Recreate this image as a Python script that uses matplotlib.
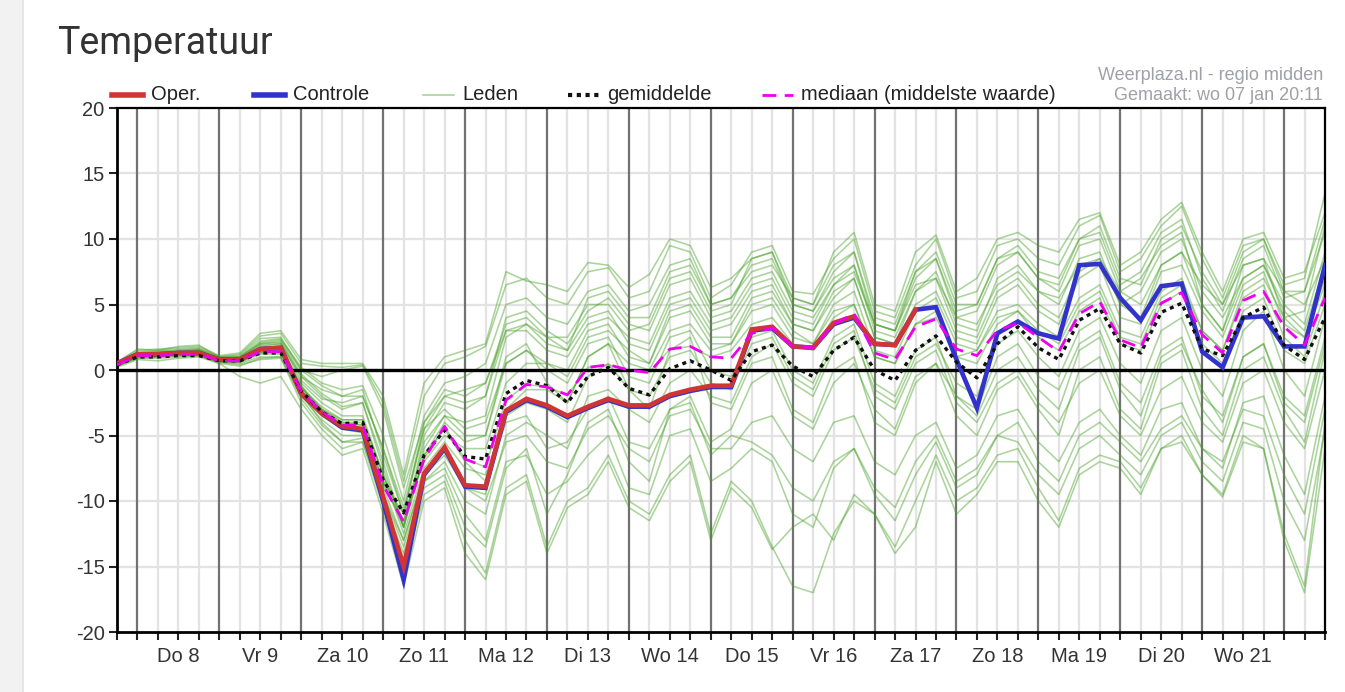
import numpy as np
import matplotlib.pyplot as plt
from matplotlib.lines import Line2D
from matplotlib.patches import Rectangle

# time steps: every 6 hours from wo 7 jan 18:00 (step 0) to do 22 jan 12:00 (step 59)
day_labels = ["Do 8", "Vr 9", "Za 10", "Zo 11", "Ma 12", "Di 13", "Wo 14",
              "Do 15", "Vr 16", "Za 17", "Zo 18", "Ma 19", "Di 20", "Wo 21"]

oper = [0.5, 1.2, 1.2, 1.3, 1.3, 0.8, 0.8, 1.6, 1.7, -1.8, -3.3, -4.3, -4.5, -9.7, -15.0,
        -7.9, -5.9, -8.8, -8.9, -3.1, -2.2, -2.7, -3.5, -2.8, -2.2, -2.7, -2.7, -1.9, -1.5, -1.2,
        -1.2, 3.1, 3.3, 1.8, 1.7, 3.6, 4.1, 2.0, 1.9, 4.6]

controle = [0.5, 1.2, 1.2, 1.3, 1.3, 0.8, 0.8, 1.6, 1.7, -1.8, -3.3, -4.4, -4.6, -10.0, -16.0,
            -8.0, -6.0, -8.9, -9.0, -3.2, -2.3, -2.8, -3.6, -2.9, -2.3, -2.8, -2.8, -2.0, -1.6, -1.3,
            -1.3, 3.0, 3.2, 1.8, 1.7, 3.5, 4.0, 2.0, 1.9, 4.6, 4.8, 0.8, -2.9, 2.8, 3.7,
            2.8, 2.4, 8.0, 8.1, 5.5, 3.8, 6.4, 6.6, 1.4, 0.2, 4.0, 4.1, 1.8, 1.8, 8.0]

gemiddelde = [0.4, 1.0, 1.0, 1.1, 1.1, 0.7, 0.7, 1.3, 1.3, -1.6, -3.2, -4.1, -4.0, -8.4, -10.9,
              -6.5, -4.6, -6.6, -6.8, -1.8, -0.8, -1.2, -2.5, -0.5, 0.2, -1.4, -1.9, 0.1, 0.7, 0.0,
              -0.8, 1.4, 1.9, 0.3, -0.5, 1.5, 2.5, 0.0, -0.8, 1.5, 2.6, 0.6, -0.6, 2.0, 3.3,
              1.7, 0.8, 3.8, 4.7, 2.0, 1.3, 4.4, 5.1, 1.6, 1.1, 4.0, 4.8, 1.9, 0.8, 4.0]

mediaan = [0.4, 1.1, 1.1, 1.2, 1.2, 0.7, 0.7, 1.4, 1.4, -1.6, -3.2, -4.2, -4.2, -8.8, -11.6,
           -6.8, -4.3, -6.8, -7.4, -2.3, -1.1, -1.3, -1.9, 0.2, 0.4, 0.0, -0.2, 1.6, 1.8, 1.0,
           0.9, 2.8, 3.2, 1.8, 1.7, 3.5, 4.3, 1.3, 0.8, 3.3, 3.9, 1.6, 1.1, 3.0, 3.6,
           2.5, 1.4, 4.3, 5.2, 2.3, 1.7, 5.1, 5.9, 2.7, 1.3, 5.3, 6.0, 3.3, 1.9, 5.5]

# ensemble members (leden)
leden = [
    [0.6, 1.6, 1.5, 1.8, 1.9, 1.0, 1.2, 2.6, 2.8, 0.5, 0.3, 0.2, 0.4, -2.5, -8.5,
     -2.0, 0.5, 1.0, 1.8, 6.5, 7.0, 5.5, 5.0, 7.5, 7.8, 5.5, 6.0, 9.5, 9.0, 5.5,
     6.5, 9.0, 9.5, 6.0, 5.8, 8.5, 10.0, 4.5, 4.0, 8.0, 10.0, 5.5, 6.0, 9.5, 10.0,
     8.5, 8.0, 11.0, 11.8, 7.5, 8.5, 11.0, 12.5, 8.5, 5.5, 9.5, 10.0, 6.5, 7.0, 13.5],
    [0.4, 1.3, 1.4, 1.5, 1.6, 0.9, 1.0, 2.2, 2.4, 0.2, -1.0, -1.5, -1.2, -5.0, -10.0,
     -3.5, -1.0, -0.5, 0.5, 5.0, 5.5, 4.0, 3.5, 6.0, 6.5, 4.5, 5.0, 8.0, 8.5, 5.0,
     5.5, 8.0, 8.5, 5.0, 4.5, 7.5, 9.0, 3.5, 3.0, 7.0, 8.5, 4.0, 4.5, 8.0, 9.0,
     7.0, 6.0, 9.5, 10.0, 6.0, 7.0, 9.5, 10.5, 5.0, 3.0, 8.0, 8.5, 4.0, 4.5, 11.0],
    [0.5, 1.2, 1.3, 1.4, 1.5, 0.8, 0.9, 1.8, 2.0, -0.5, -2.0, -3.0, -2.5, -7.0, -12.0,
     -5.0, -2.5, -3.0, -2.0, 4.0, 4.5, 3.0, 2.0, 4.5, 5.5, 3.5, 3.0, 6.5, 7.0, 4.0,
     4.5, 7.0, 7.5, 4.5, 4.0, 6.5, 8.0, 3.0, 2.5, 6.0, 7.5, 3.5, 3.0, 7.0, 8.0,
     6.0, 5.0, 8.5, 9.0, 5.0, 6.0, 9.0, 10.0, 6.0, 4.0, 7.0, 8.0, 5.0, 3.5, 9.0],
    [0.4, 1.1, 1.2, 1.3, 1.4, 0.8, 0.8, 1.6, 1.7, -1.0, -2.5, -3.5, -3.5, -8.0, -11.5,
     -6.0, -3.5, -4.0, -3.5, 2.5, 3.5, 2.5, 1.5, 4.0, 4.5, 2.0, 1.5, 5.0, 5.5, 3.0,
     3.5, 6.0, 6.5, 3.5, 3.0, 5.5, 7.0, 2.5, 2.0, 5.0, 6.0, 2.5, 2.0, 5.5, 6.5,
     4.5, 3.5, 7.0, 8.0, 4.0, 3.5, 7.5, 8.0, 4.5, 2.5, 6.5, 7.5, 3.5, 2.5, 7.0],
    [0.3, 1.0, 1.1, 1.2, 1.2, 0.7, 0.6, 1.3, 1.4, -1.5, -3.0, -4.0, -4.0, -8.5, -11.0,
     -7.0, -5.0, -6.0, -6.0, -1.0, 0.5, 0.5, -0.5, 2.5, 3.0, 1.5, 0.5, 4.0, 4.5, 2.0,
     2.0, 5.0, 5.5, 3.0, 2.0, 5.0, 6.0, 1.5, 1.0, 4.5, 5.5, 2.0, 1.5, 4.5, 5.0,
     3.5, 2.5, 5.5, 6.5, 3.0, 2.5, 6.0, 7.0, 3.0, 1.5, 5.5, 6.5, 2.5, 1.0, 6.0],
    [0.5, 1.4, 1.5, 1.6, 1.7, 1.0, 1.1, 2.4, 2.5, 0.0, -0.5, 0.0, 0.3, -3.0, -9.0,
     -4.0, -2.0, -1.5, -1.0, 3.5, 4.0, 2.5, 2.5, 5.0, 5.0, 3.0, 3.5, 7.0, 7.5, 4.5,
     5.0, 8.5, 9.0, 5.5, 5.0, 9.0, 10.5, 5.0, 4.5, 9.0, 10.3, 6.0, 7.0, 10.0, 10.5,
     9.5, 9.0, 11.5, 12.0, 8.0, 9.0, 11.5, 12.8, 9.0, 6.0, 10.0, 10.5, 7.0, 7.5, 12.0],
    [0.4, 1.2, 1.3, 1.4, 1.5, 0.9, 0.7, 1.4, 1.5, -1.2, -3.5, -4.5, -4.8, -9.5, -13.0,
     -8.0, -6.5, -9.0, -9.5, -3.0, -1.5, -1.5, -2.5, 1.0, 2.0, 0.5, 0.0, 3.0, 3.5, 1.5,
     2.0, 4.5, 5.0, 2.5, 2.0, 4.5, 5.0, 1.0, 0.5, 3.5, 4.0, 1.0, 0.5, 3.5, 4.5,
     2.5, 1.5, 4.5, 5.5, 2.0, 1.5, 5.0, 6.0, 2.0, 0.5, 4.5, 5.5, 1.5, 0.5, 5.0],
    [0.4, 1.1, 1.1, 1.2, 1.2, 0.7, 0.7, 1.4, 1.4, -1.6, -3.2, -4.2, -4.2, -8.8, -11.6,
     -6.8, -4.3, -6.8, -7.4, -2.3, -1.1, -1.3, -1.9, 0.2, 0.4, 0.0, -0.2, 1.6, 1.8, 1.0,
     1.5, 3.5, 4.0, 2.0, 1.5, 4.0, 5.0, 1.0, 0.5, 3.5, 4.5, 1.0, 1.5, 4.0, 4.5,
     3.0, 2.0, 5.0, 6.0, 2.5, 2.0, 5.5, 6.5, 3.0, 1.5, 6.0, 7.0, 4.0, 2.5, 6.5],
    [0.6, 1.5, 1.6, 1.7, 1.8, 1.1, 1.3, 2.8, 3.0, 0.8, 0.5, 0.5, 0.5, -2.0, -8.0,
     -1.0, 1.0, 1.5, 2.0, 7.5, 6.8, 6.5, 6.0, 8.2, 8.0, 6.3, 7.3, 10.0, 9.5, 6.3,
     7.0, 8.5, 9.0, 5.0, 4.5, 7.0, 8.0, 3.5, 3.0, 7.5, 8.5, 4.5, 5.0, 8.5, 9.5,
     7.5, 7.0, 10.0, 10.5, 6.5, 7.5, 10.5, 11.5, 7.0, 4.5, 8.5, 9.5, 5.5, 6.0, 10.5],
    [0.4, 1.2, 1.3, 1.3, 1.5, 0.9, 0.9, 2.0, 2.1, -0.5, -1.5, -2.0, -1.5, -6.5, -11.0,
     -4.0, -1.5, -2.0, -1.0, 3.0, 3.0, 1.5, 1.0, 3.5, 4.0, 2.5, 2.0, 5.5, 6.0, 3.5,
     4.0, 6.5, 7.0, 4.0, 3.5, 6.5, 7.5, 3.5, 3.0, 6.5, 7.0, 4.0, 3.5, 6.5, 7.5,
     6.0, 5.5, 8.0, 8.5, 6.0, 5.0, 8.0, 9.0, 6.5, 5.0, 8.0, 8.5, 6.0, 5.0, 8.5],
    [0.5, 1.3, 1.4, 1.5, 1.6, 1.0, 1.0, 2.1, 2.3, 0.0, -1.2, -2.0, -2.0, -6.0, -11.0,
     -4.5, -2.0, -2.5, -2.0, 3.0, 3.5, 2.0, 1.5, 5.5, 6.0, 4.0, 4.0, 7.5, 8.0, 5.0,
     5.5, 7.5, 8.0, 5.5, 5.0, 8.0, 9.0, 4.0, 3.5, 7.5, 9.0, 5.0, 5.0, 8.5, 9.0,
     7.0, 6.5, 10.0, 11.0, 7.0, 6.5, 10.0, 11.0, 7.5, 5.0, 9.0, 10.0, 6.0, 6.0, 11.5],
    [0.4, 1.1, 1.2, 1.3, 1.3, 0.8, 0.8, 1.5, 1.6, -1.3, -3.0, -3.8, -3.8, -8.0, -12.0,
     -6.5, -4.0, -5.5, -5.0, 0.5, 1.5, 0.5, 0.0, 3.0, 3.5, 1.0, 0.5, 4.5, 5.0, 2.5,
     2.5, 5.5, 6.0, 3.5, 3.0, 6.0, 7.0, 2.5, 2.0, 6.0, 7.0, 3.0, 2.5, 6.0, 7.0,
     5.0, 4.0, 7.5, 8.5, 5.0, 4.0, 8.0, 9.0, 5.0, 3.0, 7.0, 8.0, 4.5, 3.0, 8.0],
    [0.3, 0.9, 1.0, 1.1, 1.1, 0.6, 0.5, 1.0, 1.0, -2.0, -3.8, -5.0, -5.0, -9.5, -13.5,
     -8.5, -7.0, -10.0, -11.0, -5.0, -4.0, -5.0, -6.0, -2.0, -1.5, -3.0, -4.0, -1.0, 0.0, -2.0,
     -2.5, 1.0, 2.0, -1.0, -2.0, 1.5, 2.5, -1.5, -2.5, 1.0, 2.0, -1.0, -2.0, 2.0, 3.0,
     1.0, -0.5, 3.0, 4.0, 0.5, -1.0, 3.0, 4.0, 0.0, -2.0, 3.0, 4.5, 0.0, -2.0, 4.0],
    [0.5, 1.3, 1.2, 1.4, 1.3, 0.8, 0.9, 1.9, 2.0, -0.8, -2.2, -2.5, -2.0, -6.0, -10.5,
     -4.5, -3.0, -4.5, -4.0, 0.5, 1.5, 0.0, -1.0, 2.0, 2.5, -0.5, -1.0, 2.5, 3.0, 0.0,
     -0.5, 2.5, 3.0, 0.0, -1.0, 2.5, 3.5, -1.0, -2.0, 1.5, 2.5, -2.0, -3.0, 1.0, 2.0,
     -0.5, -1.5, 2.0, 3.0, -1.0, -2.5, 1.5, 2.5, -2.0, -3.5, 1.0, 2.0, -2.5, -4.0, 2.0],
    [0.4, 1.2, 1.2, 1.3, 1.4, 0.8, 0.8, 1.7, 1.8, -1.4, -2.8, -3.8, -3.8, -8.0, -12.5,
     -7.5, -5.5, -7.5, -8.0, -3.5, -2.5, -3.0, -4.0, -0.5, 0.5, -1.5, -2.0, 1.0, 1.5, -1.0,
     -1.5, 2.0, 2.5, -0.5, -1.5, 2.0, 3.0, -2.0, -3.0, 0.5, 1.5, -2.5, -4.0, -1.0, 0.0,
     -2.5, -4.0, -1.0, 0.0, -3.5, -5.0, -1.5, -0.5, -4.0, -5.5, -1.0, 0.0, -4.0, -6.0, 0.0],
    [0.5, 1.2, 1.3, 1.4, 1.5, 0.9, 1.0, 2.0, 2.2, -0.3, -1.8, -2.8, -2.5, -7.5, -12.0,
     -5.5, -3.5, -5.0, -5.0, 1.0, 2.0, -1.0, -2.5, 1.0, 2.0, -1.5, -3.0, 1.5, 2.5, -2.5,
     -3.0, 0.5, 1.0, -3.0, -4.0, 0.0, 1.0, -4.0, -5.0, -1.0, 0.5, -3.5, -5.0, -1.5, -0.5,
     -3.0, -5.0, 0.0, 1.0, -3.0, -4.5, 0.5, 1.5, -3.0, -5.0, 0.0, 1.0, -3.0, -5.5, 1.5],
    [0.3, 1.0, 1.0, 1.2, 1.2, 0.6, 0.6, 1.5, 1.6, -1.8, -4.0, -5.5, -5.5, -10.0, -14.0,
     -9.0, -8.0, -12.0, -13.5, -7.5, -6.0, -11.0, -8.0, -4.0, -3.0, -7.0, -8.5, -3.0, -2.0, -5.5,
     -4.5, -1.0, 0.0, -3.5, -4.5, -1.0, 0.5, -3.0, -4.5, -0.5, 0.5, -2.0, -3.5, 0.0, 1.0,
     -1.5, -3.0, 1.5, 2.5, -1.5, -3.5, 1.0, 2.0, -1.5, -4.0, 1.0, 2.0, -2.0, -3.5, 2.5],
    [0.3, 0.9, 0.9, 1.0, 1.1, 0.6, 0.4, 0.8, 0.9, -2.5, -4.5, -6.0, -5.5, -10.5, -15.5,
     -9.5, -8.5, -13.0, -15.5, -9.0, -8.0, -13.5, -10.0, -9.0, -6.5, -10.0, -11.0, -8.0, -6.5, -12.5,
     -8.5, -10.0, -13.5, -16.5, -17.0, -12.5, -10.0, -11.0, -14.0, -12.0, -7.0, -11.0, -9.5, -7.0, -7.0,
     -10.0, -12.0, -8.0, -7.0, -7.5, -9.5, -6.0, -5.0, -8.0, -9.5, -5.0, -6.0, -12.5, -16.5, -4.0],
    [0.3, 1.0, 1.0, 1.1, 1.1, 0.5, 0.3, 0.9, 1.0, -2.2, -4.2, -5.5, -5.2, -10.0, -14.5,
     -8.5, -7.5, -11.0, -13.0, -7.0, -6.5, -9.5, -8.5, -6.5, -5.0, -9.0, -9.5, -5.0, -4.5, -8.5,
     -7.5, -6.0, -7.0, -11.0, -12.0, -7.5, -6.0, -9.5, -11.5, -8.0, -5.5, -9.0, -8.0, -5.0, -5.5,
     -8.0, -9.5, -6.0, -5.0, -6.5, -8.0, -5.0, -4.0, -7.0, -8.5, -4.0, -4.5, -10.0, -13.0, -4.5],
    [0.2, 0.8, 0.7, 0.9, 1.0, 0.5, -0.5, -1.0, -0.5, -3.0, -5.0, -6.5, -6.0, -11.0, -16.5,
     -10.0, -9.0, -14.0, -16.0, -9.5, -8.5, -14.0, -10.5, -9.5, -7.0, -10.5, -11.5, -8.5, -7.0, -13.0,
     -9.0, -10.5, -13.7, -12.0, -11.0, -13.0, -9.5, -11.0, -13.5, -10.0, -6.5, -10.0, -9.0, -6.5, -6.0,
     -9.0, -11.5, -7.5, -6.5, -7.0, -9.0, -6.0, -5.5, -8.0, -9.7, -5.5, -6.0, -13.0, -17.0, -6.0],
    [0.4, 1.0, 1.1, 1.2, 1.2, 0.7, 0.6, 1.2, 1.2, -1.8, -3.5, -4.5, -4.5, -9.0, -13.0,
     -8.0, -6.0, -9.0, -10.0, -5.5, -5.0, -7.0, -7.5, -4.5, -3.5, -6.0, -7.0, -3.5, -3.0, -6.0,
     -6.0, -4.0, -3.5, -6.0, -7.0, -4.0, -3.5, -7.0, -8.0, -5.0, -4.0, -7.5, -6.5, -3.5, -3.0,
     -5.5, -7.0, -4.0, -3.0, -5.0, -6.5, -3.0, -2.5, -6.0, -7.5, -2.5, -2.0, -6.5, -9.5, -2.0],
    [0.5, 1.1, 1.2, 1.3, 1.4, 0.8, 0.7, 1.3, 1.3, -1.2, -3.0, -4.0, -4.2, -8.5, -12.0,
     -6.5, -4.5, -7.0, -8.5, -4.0, -3.5, -6.0, -5.5, -3.0, -2.0, -5.5, -6.0, -3.0, -2.5, -6.5,
     -5.0, -5.5, -6.5, -9.0, -10.0, -7.0, -6.0, -9.0, -10.5, -7.0, -5.0, -8.5, -7.5, -5.0, -4.0,
     -7.0, -8.5, -5.0, -4.0, -5.5, -7.0, -4.5, -3.5, -6.0, -7.0, -3.0, -3.5, -8.0, -11.0, -3.0],
]

W, H = 1345, 692
fig = plt.figure(figsize=(W / 100, H / 100), dpi=100)
fig.patch.set_facecolor("white")
fig.patches.append(Rectangle((0, 0), 22 / W, 1, transform=fig.transFigure,
                             facecolor="#f2f2f2", edgecolor="none", zorder=0))
fig.patches.append(Rectangle((22 / W, 0), 1.5 / W, 1, transform=fig.transFigure,
                             facecolor="#e6e6e6", edgecolor="none", zorder=0))

ax = fig.add_axes([117 / W, 1 - 632 / H, (1325 - 117) / W, (632 - 108) / H])

n = len(controle)
t = np.arange(n)
ax.set_xlim(0, n - 1)
ax.set_ylim(-20, 20)

# grid: light lines every 6 h, darker at midnight, light horizontal every 5 degrees
for k in t:
    if k % 4 == 1:
        ax.axvline(k, color="#727272", lw=1.6, zorder=1)
    else:
        ax.axvline(k, color="#e3e3e3", lw=1.6, zorder=0.5)
for v in range(-15, 20, 5):
    ax.axhline(v, color="#e3e3e3", lw=1.6, zorder=0.5)

for lid in leden:
    ax.plot(t, lid, color="#46a024", lw=1.15, alpha=0.45, zorder=2)

ax.axhline(0, color="black", lw=2.4, zorder=3)

ax.plot(t, controle, color="#3333cc", lw=3.3, zorder=4, solid_joinstyle="miter")
ax.plot(t[:len(oper)], oper, color="#d03535", lw=3.3, zorder=5, solid_joinstyle="miter")
ax.plot(t, gemiddelde, color="#111111", lw=2.4, ls=(0, (1.2, 1.3)), zorder=6)
ax.plot(t, mediaan, color="#ee00ee", lw=2.0, ls=(0, (5, 3)), zorder=6)

# axes styling
for side in ["left", "bottom"]:
    ax.spines[side].set_linewidth(2)
for side in ["top", "right"]:
    ax.spines[side].set_linewidth(1.6)
ax.set_yticks(range(-20, 21, 5))
ax.set_yticklabels([str(v) for v in range(-20, 21, 5)])
ax.set_xticks(t)
xlabels = []
for k in t:
    if k % 4 == 3 and (k - 3) // 4 < len(day_labels):
        xlabels.append(day_labels[(k - 3) // 4])
    else:
        xlabels.append("")
ax.set_xticklabels(xlabels)
ax.tick_params(axis="both", direction="out", length=6, width=1.5, colors="#222222",
               labelsize=14.5)
ax.tick_params(axis="x", pad=5)
ax.tick_params(axis="y", pad=3)
for lab in ax.get_xticklabels() + ax.get_yticklabels():
    lab.set_fontfamily("Liberation Sans")
    lab.set_color("#333333")

# title
fig.text(57 / W, 1 - 43 / H, "Temperatuur", fontsize=27, family="Roboto",
         color="#333333", va="center", ha="left")

# legend drawn by hand above the axes
ly = 1 - 95 / H
items = [
    (112, "Oper.", dict(color="#d03535", lw=4)),
    (254, "Controle", dict(color="#3333cc", lw=4)),
    (423, "Leden", dict(color="#46a024", lw=1.1, alpha=0.5)),
    (568, "gemiddelde", dict(color="#111111", lw=3, ls=(0, (1, 1.1)))),
    (762, "mediaan (middelste waarde)", dict(color="#ee00ee", lw=2, ls=(0, (5, 3)))),
]
for x0, txt, st in items:
    fig.add_artist(Line2D([x0 / W, (x0 + 31) / W], [ly, ly], transform=fig.transFigure, **st))
    fig.text((x0 + 39) / W, ly, txt, fontsize=14.5, family="Liberation Sans",
             color="#222222", va="center", ha="left")

fig.text(1323 / W, 1 - 75 / H, "Weerplaza.nl - regio midden", fontsize=13,
         family="Liberation Sans", color="#a0a0a8", ha="right", va="center")
fig.text(1323 / W, 1 - 95 / H, "Gemaakt: wo 07 jan 20:11", fontsize=13,
         family="Liberation Sans", color="#a0a0a8", ha="right", va="center")

fig.savefig("out.png", dpi=100)
